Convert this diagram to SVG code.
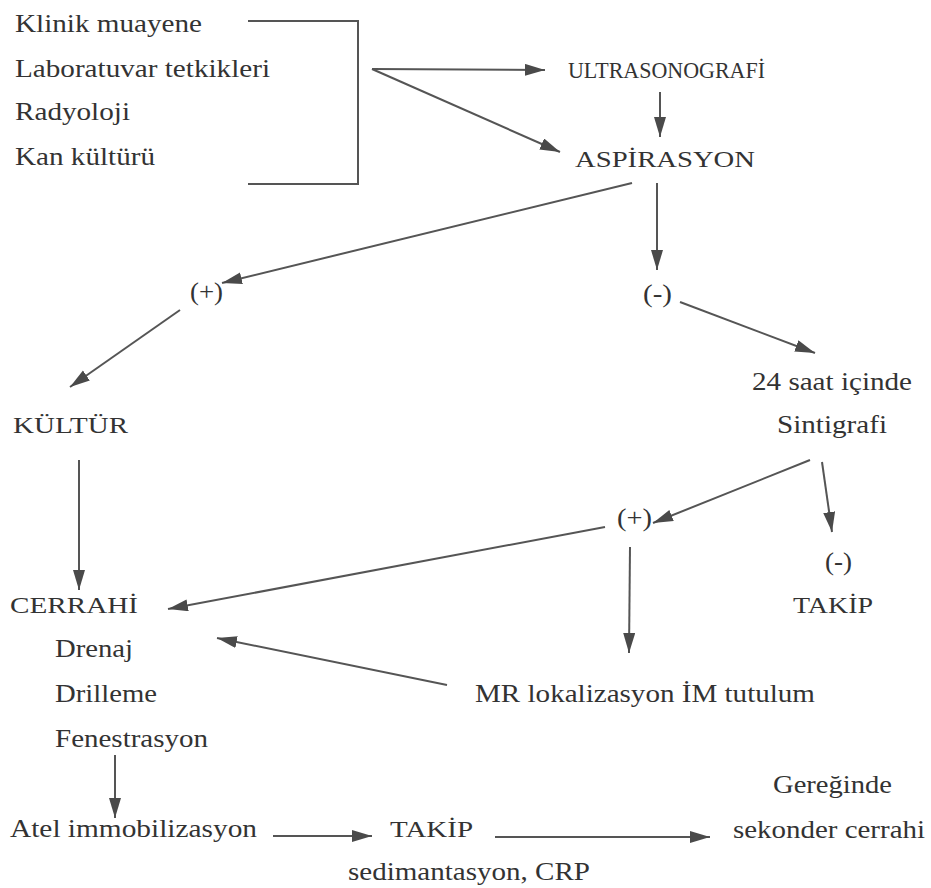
<svg xmlns="http://www.w3.org/2000/svg" width="931" height="888" viewBox="0 0 931 888">
<defs>
<marker id="ah" markerUnits="userSpaceOnUse" markerWidth="22" markerHeight="14" refX="20" refY="6" orient="auto">
<path d="M0,0 L20,6 L0,12 Z" fill="#4a4a4a"/>
</marker>
<style>
text{font-family:"Liberation Serif","Times New Roman",serif;font-size:25px;fill:#333;}
.cap{font-size:24px;}
.ln{stroke:#555;stroke-width:2;fill:none;}
.ar{stroke:#555;stroke-width:2;fill:none;marker-end:url(#ah);}
</style>
</defs>
<rect width="931" height="888" fill="#fff"/>
<g id="inputs">
<text x="15" y="32" textLength="187" lengthAdjust="spacingAndGlyphs">Klinik muayene</text>
<text x="15" y="77" textLength="255" lengthAdjust="spacingAndGlyphs">Laboratuvar tetkikleri</text>
<text x="15" y="120" textLength="115" lengthAdjust="spacingAndGlyphs">Radyoloji</text>
<text x="15" y="165" textLength="140" lengthAdjust="spacingAndGlyphs">Kan kültürü</text>
</g>
<g id="usg"><text class="cap" x="568" y="78" textLength="197" lengthAdjust="spacingAndGlyphs">ULTRASONOGRAFİ</text></g>
<g id="asp"><text class="cap" x="575" y="167" textLength="180" lengthAdjust="spacingAndGlyphs">ASPİRASYON</text></g>
<g id="pos1"><text x="190" y="300" textLength="33" lengthAdjust="spacingAndGlyphs">(+)</text></g>
<g id="neg1"><text x="643" y="302" textLength="29" lengthAdjust="spacingAndGlyphs">(-)</text></g>
<g id="sint">
<text x="752" y="390" textLength="160" lengthAdjust="spacingAndGlyphs">24 saat içinde</text>
<text x="777" y="433" textLength="110" lengthAdjust="spacingAndGlyphs">Sintigrafi</text>
</g>
<g id="kultur"><text class="cap" x="13" y="433" textLength="115" lengthAdjust="spacingAndGlyphs">KÜLTÜR</text></g>
<g id="pos2"><text x="617" y="526" textLength="35" lengthAdjust="spacingAndGlyphs">(+)</text></g>
<g id="neg2"><text x="825" y="570" textLength="27" lengthAdjust="spacingAndGlyphs">(-)</text></g>
<g id="takip1"><text class="cap" x="793" y="613" textLength="80" lengthAdjust="spacingAndGlyphs">TAKİP</text></g>
<g id="cerrahi">
<text class="cap" x="10" y="613" textLength="128" lengthAdjust="spacingAndGlyphs">CERRAHİ</text>
<text x="55" y="657" textLength="78" lengthAdjust="spacingAndGlyphs">Drenaj</text>
<text x="55" y="702" textLength="102" lengthAdjust="spacingAndGlyphs">Drilleme</text>
<text x="55" y="747" textLength="153" lengthAdjust="spacingAndGlyphs">Fenestrasyon</text>
</g>
<g id="mr"><text x="475" y="702" textLength="340" lengthAdjust="spacingAndGlyphs">MR lokalizasyon İM tutulum</text></g>
<g id="atel"><text x="10" y="837" textLength="247" lengthAdjust="spacingAndGlyphs">Atel immobilizasyon</text></g>
<g id="takip2">
<text class="cap" x="390" y="837" textLength="83" lengthAdjust="spacingAndGlyphs">TAKİP</text>
<text x="348" y="880" textLength="242" lengthAdjust="spacingAndGlyphs">sedimantasyon, CRP</text>
</g>
<g id="sekonder">
<text x="773" y="793" textLength="119" lengthAdjust="spacingAndGlyphs">Gereğinde</text>
<text x="733" y="838" textLength="192" lengthAdjust="spacingAndGlyphs">sekonder cerrahi</text>
</g>
<g id="connectors">
<path class="ln" d="M248,21 H358 V184 H248"/>
<path class="ar" d="M372,69 L545,70"/>
<path class="ar" d="M372,69 L560,152"/>
<path class="ar" d="M660,92 L660,137"/>
<path class="ar" d="M632,183 L222,283"/>
<path class="ar" d="M657,183 L657,270"/>
<path class="ar" d="M180,310 L70,387"/>
<path class="ar" d="M680,302 L815,353"/>
<path class="ar" d="M79,460 L79,590"/>
<path class="ar" d="M810,460 L653,523"/>
<path class="ar" d="M822,462 L832,532"/>
<path class="ar" d="M605,527 L168,609"/>
<path class="ar" d="M630,547 L629,653"/>
<path class="ar" d="M447,685 L217,638"/>
<path class="ar" d="M115,755 L115,818"/>
<path class="ar" d="M273,836 L372,836"/>
<path class="ar" d="M495,837 L710,837"/>
</g>
</svg>
